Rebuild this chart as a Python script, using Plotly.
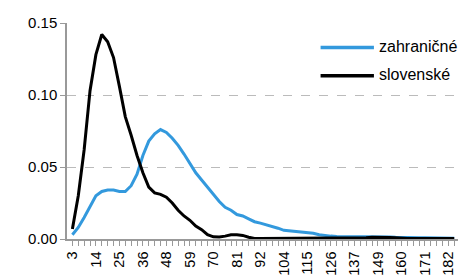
import plotly.graph_objects as go

# Category tick labels (every 4th category is labelled)
tick_labels = ["3", "14", "25", "36", "48", "59", "70", "81", "92", "104",
               "115", "126", "137", "149", "160", "171", "182"]

series_names = ["zahraničné", "slovenské"]

zahranicne = [0.003, 0.008, 0.015, 0.023, 0.030, 0.033, 0.034, 0.034, 0.033, 0.033,
              0.037, 0.045, 0.058, 0.068, 0.073, 0.076, 0.074, 0.070, 0.065, 0.059,
              0.052, 0.046, 0.041, 0.036, 0.031, 0.026, 0.022, 0.020, 0.017, 0.016,
              0.014, 0.012, 0.011, 0.010, 0.009, 0.0075, 0.006, 0.0056, 0.0054, 0.0052,
              0.0048, 0.004, 0.003, 0.0024, 0.002, 0.0018, 0.0018, 0.0018, 0.0018, 0.0018,
              0.0018, 0.0018, 0.0018, 0.0016, 0.0014, 0.0012, 0.001, 0.001, 0.0009, 0.0008,
              0.0008, 0.0008, 0.0009, 0.0008, 0.0007, 0.0006]

slovenske = [0.007, 0.030, 0.062, 0.103, 0.128, 0.142, 0.137, 0.126, 0.106, 0.085,
             0.072, 0.058, 0.046, 0.036, 0.032, 0.031, 0.029, 0.025, 0.020, 0.016,
             0.013, 0.009, 0.0065, 0.003, 0.0015, 0.0014, 0.002, 0.003, 0.003, 0.0025,
             0.0012, 0.0003, 0.0003, 0.0003, 0.0003, 0.0008, 0.0003, 0.0003, 0.0003, 0.0003,
             0.0003, 0.0003, 0.0003, 0.0003, 0.0003, 0.0003, 0.0003, 0.0003, 0.0003, 0.0005,
             0.0008, 0.0012, 0.0013, 0.0013, 0.001, 0.0008, 0.0003, 0.0003, 0.0003, 0.0003,
             0.0003, 0.0003, 0.0003, 0.0003, 0.0003, 0.0003]

colors = ["#3399dd", "#000000"]

n = len(zahranicne)
x_idx = list(range(n))
label_pos = list(range(0, 4 * len(tick_labels), 4))

FONT = "Liberation Sans, Arial, sans-serif"

fig = go.Figure()
for name, vals, col in zip(series_names, [zahranicne, slovenske], colors):
    fig.add_trace(go.Scatter(x=x_idx, y=vals, mode="lines", name=name,
                             line=dict(color=col, width=3),
                             showlegend=False))

# Custom legend (lines + labels)
legend_y = [0.887, 0.756]
for name, col, yy in zip(series_names, colors, legend_y):
    fig.add_shape(type="line", xref="paper", yref="paper",
                  x0=0.6436, x1=0.779, y0=yy, y1=yy,
                  line=dict(color=col, width=3.5))
    fig.add_annotation(xref="paper", yref="paper", x=0.786, y=yy + 0.005,
                       text=name, showarrow=False, xanchor="left", yanchor="middle",
                       font=dict(family=FONT, size=16, color="#000"))

# The page body adds an 8px offset, so the figure is 8px smaller.
fig.update_layout(
    width=458, height=270,
    margin=dict(l=59, r=5, t=15, b=39, autoexpand=False),
    paper_bgcolor="white", plot_bgcolor="white",
    font=dict(family=FONT, size=15, color="#000"),
)

fig.update_xaxes(
    automargin=False,
    range=[-0.92, 66.15],
    tickmode="array", tickvals=label_pos, ticktext=tick_labels,
    tickangle=-90, tickfont=dict(size=14.5),
    showline=True, linecolor="#999999", linewidth=1.5,
    ticks="outside", ticklen=5, tickcolor="#999999", tickwidth=1,
    minor=dict(tickmode="array", tickvals=x_idx, ticks="outside", ticklen=5,
               tickcolor="#999999", tickwidth=1, showgrid=False),
    showgrid=False, zeroline=False,
)

fig.update_yaxes(
    automargin=False,
    range=[0, 0.15],
    tickmode="array", tickvals=[0, 0.05, 0.10, 0.15], tickformat=".2f",
    tickfont=dict(size=15),
    showline=True, linecolor="#999999", linewidth=1.5,
    ticks="outside", ticklen=5, tickcolor="#999999",
    showgrid=True, gridcolor="#bbbbbb", griddash="dash", gridwidth=1.2,
    zeroline=False,
)

fig.write_html("out.html")
